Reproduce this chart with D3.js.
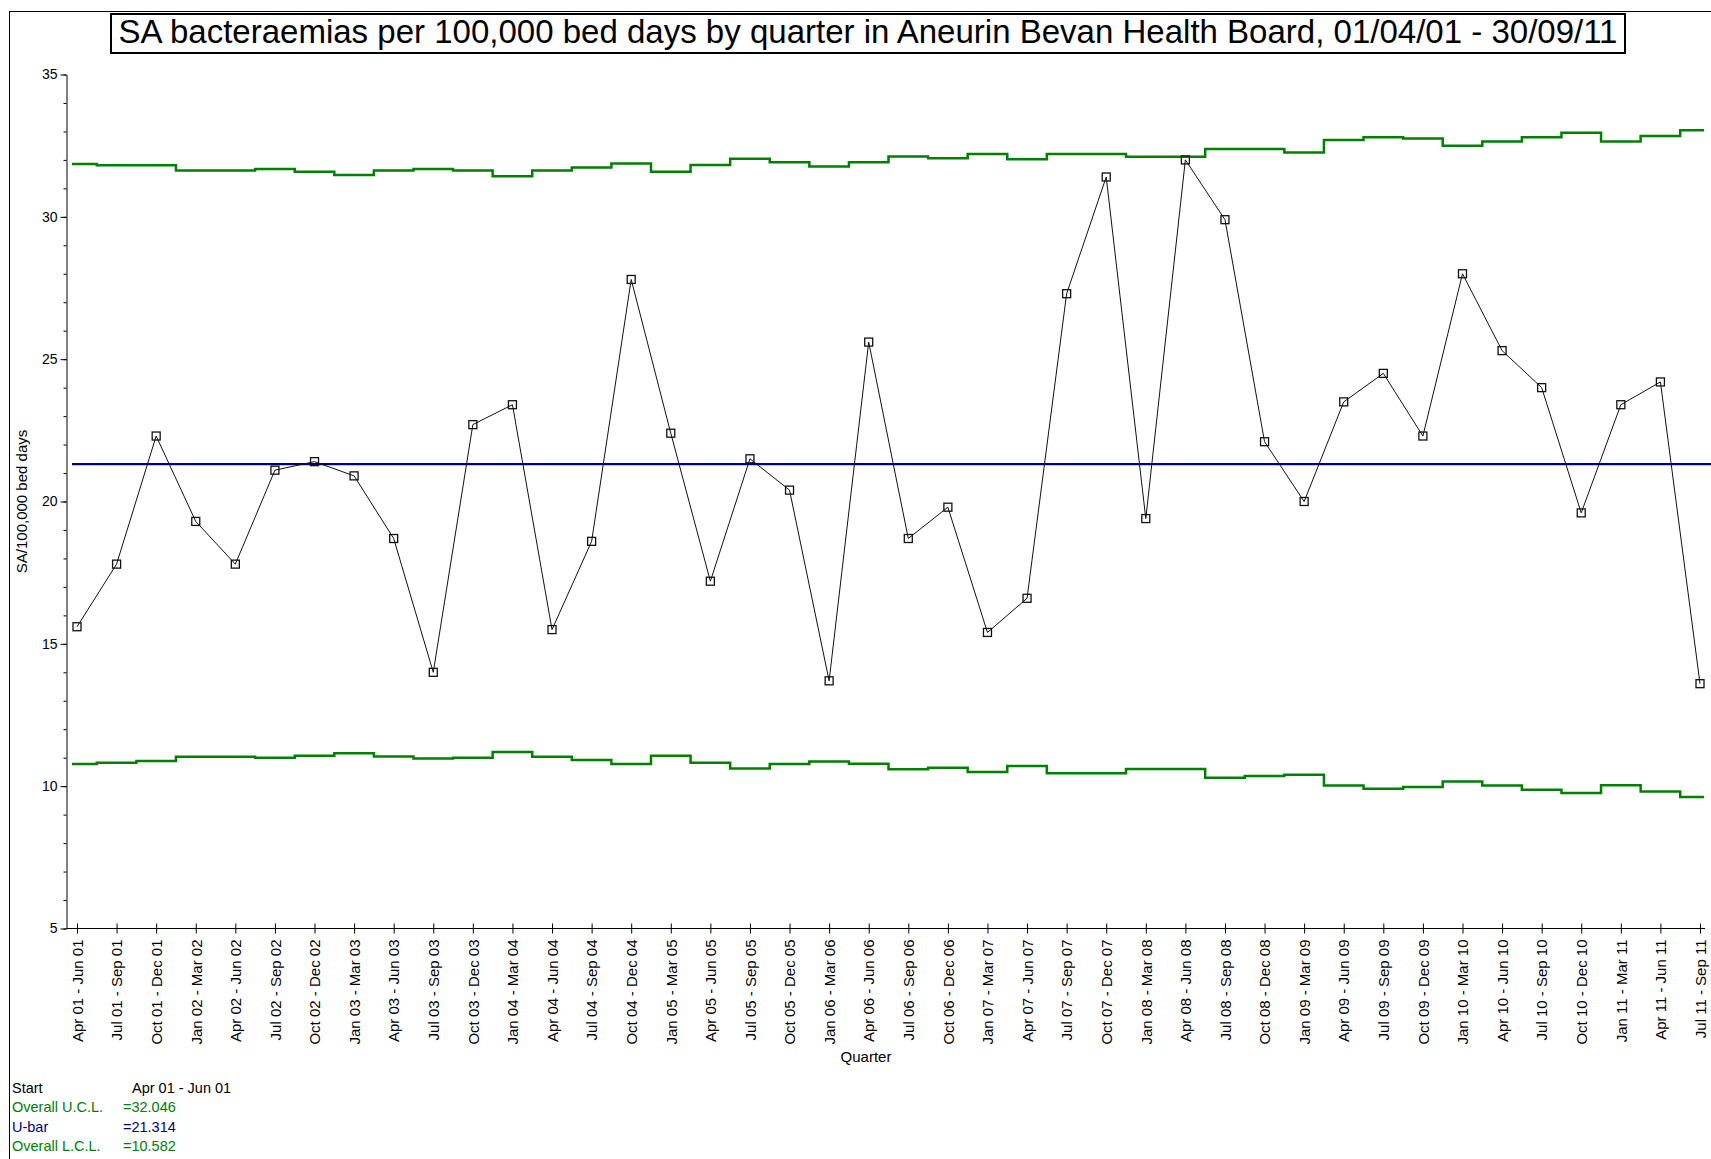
<!DOCTYPE html>
<html>
<head>
<meta charset="utf-8">
<script src="https://cdn.jsdelivr.net/npm/d3@7"></script>
<style>
  body { margin: 0; background: #fff; }
  svg { display: block; font-family: "Liberation Sans", Arial, sans-serif; }
</style>
</head>
<body>
<div id="chart"></div>
<script>
// quarters on the x axis
var quarters = [
  "Apr 01 - Jun 01", "Jul 01 - Sep 01", "Oct 01 - Dec 01",
  "Jan 02 - Mar 02", "Apr 02 - Jun 02", "Jul 02 - Sep 02", "Oct 02 - Dec 02",
  "Jan 03 - Mar 03", "Apr 03 - Jun 03", "Jul 03 - Sep 03", "Oct 03 - Dec 03",
  "Jan 04 - Mar 04", "Apr 04 - Jun 04", "Jul 04 - Sep 04", "Oct 04 - Dec 04",
  "Jan 05 - Mar 05", "Apr 05 - Jun 05", "Jul 05 - Sep 05", "Oct 05 - Dec 05",
  "Jan 06 - Mar 06", "Apr 06 - Jun 06", "Jul 06 - Sep 06", "Oct 06 - Dec 06",
  "Jan 07 - Mar 07", "Apr 07 - Jun 07", "Jul 07 - Sep 07", "Oct 07 - Dec 07",
  "Jan 08 - Mar 08", "Apr 08 - Jun 08", "Jul 08 - Sep 08", "Oct 08 - Dec 08",
  "Jan 09 - Mar 09", "Apr 09 - Jun 09", "Jul 09 - Sep 09", "Oct 09 - Dec 09",
  "Jan 10 - Mar 10", "Apr 10 - Jun 10", "Jul 10 - Sep 10", "Oct 10 - Dec 10",
  "Jan 11 - Mar 11", "Apr 11 - Jun 11", "Jul 11 - Sep 11"
];

// SA bacteraemias per 100,000 bed days
var rates = [
  15.6, 17.8, 22.3,
  19.3, 17.8, 21.1, 21.4,
  20.9, 18.7, 14.0, 22.7,
  23.4, 15.5, 18.6, 27.8,
  22.4, 17.2, 21.5, 20.4,
  13.7, 25.6, 18.7, 19.8,
  15.4, 16.6, 27.3, 31.4,
  19.4, 32.0, 29.9, 22.1,
  20.0, 23.5, 24.5, 22.3,
  28.0, 25.3, 24.0, 19.6,
  23.4, 24.2, 13.6
];

// upper control limit per quarter
var ucl = [
  31.86, 31.81, 31.81,
  31.63, 31.63, 31.68, 31.58,
  31.47, 31.63, 31.68, 31.63,
  31.43, 31.63, 31.73, 31.87,
  31.58, 31.82, 32.04, 31.92,
  31.77, 31.92, 32.12, 32.06,
  32.21, 32.02, 32.21, 32.21,
  32.11, 32.11, 32.38, 32.38,
  32.26, 32.70, 32.80, 32.75,
  32.50, 32.65, 32.80, 32.95,
  32.65, 32.84, 33.04
];

// lower control limit per quarter
var lcl = [
  10.78, 10.82, 10.88,
  11.03, 11.03, 11.00, 11.07,
  11.16, 11.04, 10.97, 11.00,
  11.20, 11.03, 10.92, 10.78,
  11.07, 10.82, 10.62, 10.78,
  10.87, 10.79, 10.59, 10.65,
  10.50, 10.71, 10.45, 10.45,
  10.60, 10.60, 10.30, 10.36,
  10.40, 10.02, 9.91, 9.97,
  10.16, 10.02, 9.87, 9.76,
  10.03, 9.81, 9.62
];

var uBar = 21.314;
var overallUCL = 32.046;
var overallLCL = 10.582;
var yTicks = [5, 10, 15, 20, 25, 30, 35];

var W = 1711, H = 1159;
var green = "#008000", navy = "#000080";

var svg = d3.select("#chart").append("svg")
  .attr("width", W).attr("height", H);
svg.append("rect").attr("width", W).attr("height", H).attr("fill", "#fff");

// outer frame (cut off at right and bottom like the original)
svg.append("rect")
  .attr("x", 9.5).attr("y", 11.5)
  .attr("width", W + 20).attr("height", H + 20)
  .attr("fill", "none").attr("stroke", "#000").attr("stroke-width", 1);

// scales
var x = d3.scalePoint().domain(quarters).range([77, 1700]);
var y = d3.scaleLinear().domain([5, 35]).range([928.5, 74.5]);
var axisX = 66.5;
var step = x.step();

// title
var title = svg.append("text")
  .attr("x", 868).attr("y", 43)
  .attr("text-anchor", "middle")
  .attr("font-size", 30)
  .text("SA bacteraemias per 100,000 bed days by quarter in Aneurin Bevan Health Board, 01/04/01 - 30/09/11");
var tl = title.node().getComputedTextLength();
title.attr("font-size", 30 * 1500 / tl);
svg.insert("rect", "text")
  .attr("x", 111).attr("y", 14)
  .attr("width", 1514).attr("height", 39)
  .attr("fill", "#fff").attr("stroke", "#000").attr("stroke-width", 2);

// y axis: minor ticks then major ticks with labels
svg.append("g")
  .attr("transform", "translate(" + axisX + ",0)")
  .call(d3.axisLeft(y).tickValues(d3.range(5, 36, 1)).tickSize(3).tickSizeOuter(0).tickFormat(""))
  .call(function(g) { g.select(".domain").remove(); });
var gy = svg.append("g")
  .attr("transform", "translate(" + axisX + ",0)")
  .call(d3.axisLeft(y).tickValues(yTicks).tickSize(6).tickSizeOuter(0).tickPadding(3));
gy.selectAll("text").attr("font-size", 14).attr("font-family", null).attr("fill", "#000");
gy.selectAll("line, path").attr("stroke", "#000");

// x axis line and crossing ticks
svg.append("line")
  .attr("x1", axisX).attr("x2", x.range()[1] + 5)
  .attr("y1", y(5)).attr("y2", y(5))
  .attr("stroke", "#000");
var gx = svg.append("g")
  .attr("transform", "translate(0," + y(5) + ")")
  .call(d3.axisBottom(x).tickSize(5).tickSizeOuter(0));
gx.select(".domain").remove();
gx.selectAll(".tick line").attr("y1", -5).attr("stroke", "#000");
gx.selectAll(".tick text")
  .attr("font-size", 15).attr("font-family", null).attr("fill", "#000")
  .attr("text-anchor", "end")
  .attr("transform", "translate(0,11) rotate(-90)")
  .attr("x", 0).attr("y", 0).attr("dy", "0.35em");

// axis titles
svg.append("text")
  .attr("transform", "translate(27," + y(20) + ") rotate(-90)")
  .attr("text-anchor", "middle")
  .attr("font-size", 15)
  .text("SA/100,000 bed days");
svg.append("text")
  .attr("x", 866).attr("y", 1062)
  .attr("text-anchor", "middle")
  .attr("font-size", 15)
  .text("Quarter");

// step path for the control limits
function stepPath(vals) {
  var pts = [[x(quarters[0]) - 5, y(vals[0])]];
  for (var i = 1; i < vals.length; i++) {
    pts.push([x(quarters[i]) - step / 2, y(vals[i])]);
  }
  pts.push([x(quarters[vals.length - 1]) + 4, y(vals[vals.length - 1])]);
  return d3.line().curve(d3.curveStepAfter)(pts);
}

svg.append("path").attr("d", stepPath(ucl))
  .attr("fill", "none").attr("stroke", green).attr("stroke-width", 2.5);
svg.append("path").attr("d", stepPath(lcl))
  .attr("fill", "none").attr("stroke", green).attr("stroke-width", 2.5);

// centre line
svg.append("line")
  .attr("x1", x(quarters[0]) - 5).attr("x2", W)
  .attr("y1", y(uBar)).attr("y2", y(uBar))
  .attr("stroke", navy).attr("stroke-width", 2.2);

// data line and markers
var line = d3.line()
  .x(function(d, i) { return x(quarters[i]); })
  .y(function(d) { return y(d); });
svg.append("path").attr("d", line(rates))
  .attr("fill", "none").attr("stroke", "#111").attr("stroke-width", 1);
svg.append("g").selectAll("rect")
  .data(rates)
  .enter().append("rect")
  .attr("x", function(d, i) { return x(quarters[i]) - 4; })
  .attr("y", function(d) { return y(d) - 4; })
  .attr("width", 8).attr("height", 8)
  .attr("fill", "none").attr("stroke", "#111").attr("stroke-width", 1.3);

// notes at bottom left
var notes = [
  {label: "Start", value: quarters[0], color: "#000", vx: 132},
  {label: "Overall U.C.L.", value: "=" + overallUCL.toFixed(3), color: green, vx: 123},
  {label: "U-bar", value: "=" + uBar.toFixed(3), color: navy, vx: 123},
  {label: "Overall L.C.L.", value: "=" + overallLCL.toFixed(3), color: green, vx: 123}
];
var ng = svg.append("g").attr("font-size", 14.5);
notes.forEach(function(n, i) {
  var yy = 1093 + i * 19.3;
  ng.append("text").attr("x", 12).attr("y", yy).attr("fill", n.color).text(n.label);
  ng.append("text").attr("x", n.vx).attr("y", yy).attr("fill", n.color).text(n.value);
});
</script>
</body>
</html>
